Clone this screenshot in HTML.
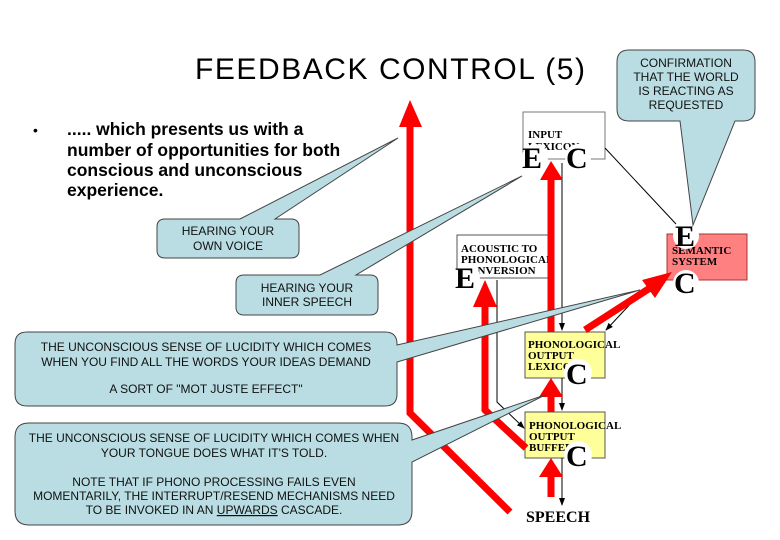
<!DOCTYPE html>
<html><head><meta charset="utf-8"><style>
html,body{margin:0;padding:0;background:#fff;}
svg{display:block;font-family:"Liberation Sans",Arial,sans-serif;}
.cb{fill:#b9dde3;stroke:#444;stroke-width:1;}
.ct{font-size:12px;fill:#111;text-anchor:middle;}
.bx{font-family:"Liberation Serif",serif;font-weight:bold;font-size:11px;fill:#000;}
.big{font-family:"Liberation Serif",serif;font-weight:bold;font-size:30px;fill:#000;}
</style></head><body>
<svg width="780" height="540" viewBox="0 0 780 540">
<defs>
<marker id="ah" markerWidth="8" markerHeight="8" refX="7" refY="4" orient="auto" markerUnits="userSpaceOnUse"><path d="M0,1 L8,4 L0,7z" fill="#000"/></marker>
</defs>
<text x="390" y="79" font-size="30" text-anchor="middle" fill="#000" textLength="390">FEEDBACK CONTROL (5)</text>
<text x="33" y="135" font-size="14">•</text>
<g font-size="17.5" font-weight="bold" fill="#000">
<text x="67" y="135">..... which presents us with a</text>
<text x="67" y="156">number of opportunities for both</text>
<text x="67" y="176">conscious and unconscious</text>
<text x="67" y="196">experience.</text>
</g>

<!-- boxes -->
<rect x="523" y="112" width="82" height="47" fill="#fff" stroke="#777"/>
<text class="bx" x="528" y="138">INPUT</text>
<text class="bx" x="528" y="150">LEXICON</text>
<rect x="457" y="235" width="91" height="43" fill="#fff" stroke="#555"/>
<text class="bx" x="461" y="252">ACOUSTIC TO</text>
<text class="bx" x="461" y="263">PHONOLOGICAL</text>
<text class="bx" x="461" y="274">CONVERSION</text>
<rect x="667" y="234" width="80" height="46" fill="#ff8080" stroke="#a33"/>
<text class="bx" x="672" y="254">SEMANTIC</text>
<text class="bx" x="672" y="265">SYSTEM</text>
<rect x="525" y="332" width="80" height="46" fill="#ffff99" stroke="#555"/>
<text class="bx" x="528" y="348">PHONOLOGICAL</text>
<text class="bx" x="528" y="359">OUTPUT</text>
<text class="bx" x="528" y="370">LEXICON</text>
<rect x="525" y="412" width="80" height="46" fill="#ffff99" stroke="#555"/>
<text class="bx" x="529" y="429">PHONOLOGICAL</text>
<text class="bx" x="529" y="440">OUTPUT</text>
<text class="bx" x="529" y="451">BUFFER</text>

<!-- thin black lines -->
<line x1="605" y1="148" x2="676" y2="224" stroke="#000" stroke-width="1"/>
<line x1="562" y1="163" x2="562" y2="330" stroke="#000" marker-end="url(#ah)"/>
<line x1="562" y1="378" x2="562" y2="410" stroke="#000" marker-end="url(#ah)"/>
<line x1="562" y1="458" x2="562" y2="505" stroke="#000" marker-end="url(#ah)"/>
<polyline points="497,280 497,402 524,428" fill="none" stroke="#000" marker-end="url(#ah)"/>
<line x1="648" y1="285" x2="606" y2="330" stroke="#000" marker-end="url(#ah)"/>

<!-- red arrows -->
<g stroke="#f00" stroke-width="7" fill="none">
<polyline points="410,124 410,413 510,512"/>
<polyline points="485,303 485,410 526,448"/>
<line x1="551" y1="178" x2="551" y2="332"/>
<line x1="551" y1="395" x2="551" y2="412"/>
<line x1="551" y1="475" x2="551" y2="497"/>
<line x1="585" y1="330" x2="650" y2="288"/>
</g>
<g fill="#f00">
<polygon points="410,100 399,127 422,127"/>
<polygon points="485,280 473,307 497,307"/>
<polygon points="551,161 540,180 563,180"/>
<polygon points="551,378 539,397 563,397"/>
<polygon points="551,458 539,477 563,477"/>
<polygon points="672,272 642,280 655,298"/>
</g>

<!-- E / C letters -->
<g class="big">
<circle cx="535" cy="157" r="13" fill="#fff"/><text x="522" y="168">E</text>
<circle cx="578" cy="157" r="13" fill="#fff"/><text x="566" y="168">C</text>
<circle cx="467" cy="277" r="13" fill="#fff"/><text x="455" y="288">E</text>
<circle cx="686" cy="236" r="13" fill="#fff"/><text x="675" y="246">E</text>
<circle cx="686" cy="283" r="13" fill="#fff"/><text x="674" y="293">C</text>
<circle cx="578" cy="373" r="14" fill="#fff"/><text x="566" y="384">C</text>
<circle cx="578" cy="455" r="14" fill="#fff"/><text x="566" y="466">C</text>
</g>
<text x="526" y="522" font-family="Liberation Serif,serif" font-weight="bold" font-size="16">SPEECH</text>

<!-- callouts -->
<path class="cb" d="M165,219 L240,219 L398,138 L275,219 L291,219 Q299,219 299,227 L299,250 Q299,258 291,258 L165,258 Q157,258 157,250 L157,227 Q157,219 165,219z"/>
<text class="ct" x="228" y="235">HEARING YOUR</text>
<text class="ct" x="228" y="250">OWN VOICE</text>

<path class="cb" d="M244,275 L320,275 L522,176 L356,275 L370,275 Q378,275 378,283 L378,307 Q378,315 370,315 L244,315 Q236,315 236,307 L236,283 Q236,275 244,275z"/>
<text class="ct" x="307" y="292">HEARING YOUR</text>
<text class="ct" x="307" y="306">INNER SPEECH</text>

<path class="cb" d="M27,332 L385,332 Q397,332 397,344 L397,345 L640,290 L397,362 L397,394 Q397,406 385,406 L27,406 Q15,406 15,394 L15,344 Q15,332 27,332z"/>
<text class="ct" x="206" y="351">THE UNCONSCIOUS SENSE OF LUCIDITY WHICH COMES</text>
<text class="ct" x="206" y="366">WHEN YOU FIND ALL THE WORDS YOUR IDEAS DEMAND</text>
<text class="ct" x="206" y="393">A SORT OF  "MOT JUSTE EFFECT"</text>

<path class="cb" d="M29,423 L398,423 Q412,423 412,437 L412,440 L545,395 L412,462 L412,511 Q412,525 398,525 L29,525 Q15,525 15,511 L15,437 Q15,423 29,423z"/>
<text class="ct" x="214" y="442">THE UNCONSCIOUS SENSE OF LUCIDITY WHICH COMES WHEN</text>
<text class="ct" x="214" y="457">YOUR TONGUE DOES WHAT IT'S TOLD.</text>
<text class="ct" x="214" y="486">NOTE THAT IF PHONO PROCESSING FAILS EVEN</text>
<text class="ct" x="214" y="500">MOMENTARILY, THE INTERRUPT/RESEND MECHANISMS NEED</text>
<text class="ct" x="214" y="514">TO BE INVOKED IN AN <tspan text-decoration="underline">UPWARDS</tspan> CASCADE.</text>

<path class="cb" d="M629,50 L743,50 Q755,50 755,62 L755,109 Q755,121 743,121 L735,121 L693,225 L680,121 L629,121 Q617,121 617,109 L617,62 Q617,50 629,50z"/>
<text class="ct" x="686" y="67">CONFIRMATION</text>
<text class="ct" x="686" y="81">THAT THE WORLD</text>
<text class="ct" x="686" y="95">IS REACTING AS</text>
<text class="ct" x="686" y="109">REQUESTED</text>
</svg>
</body></html>
